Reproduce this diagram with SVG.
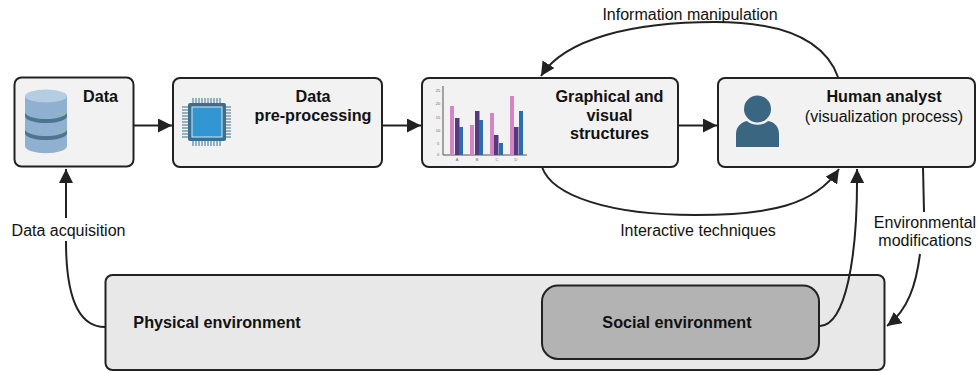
<svg xmlns="http://www.w3.org/2000/svg" width="978" height="371" viewBox="0 0 978 371">
<style>
text{font-family:"Liberation Sans",Arial,sans-serif;fill:#111;font-size:16px;text-anchor:middle}
.b{font-weight:700;font-size:16.2px}
text.t{font-size:4px;fill:#666}
.box{fill:#f2f2f2;stroke:#222;stroke-width:2}
.c{fill:none;stroke:#222;stroke-width:2}
.pin{stroke:#3c6f8e;stroke-width:1;fill:none}
</style>
<defs><marker id="a" markerWidth="15" markerHeight="15" refX="14" refY="7" orient="auto" markerUnits="userSpaceOnUse"><path d="M0,0L14,7L0,14z" fill="#222"/></marker></defs>
<g id="data"><rect class="box" x="14.500" y="77.500" width="119" height="89" rx="7"/>
<path d="M25 96V146C25 155.500 67 155.500 67 146V96z" fill="#8fb0d0"/>
<ellipse cx="46" cy="96" rx="21" ry="6.500" fill="#b5cde3"/>
<path d="M25 113C30 121 62 121 67 113V117C62 125 30 125 25 117z" fill="#4f7490"/>
<path d="M25 130C30 138 62 138 67 130V134C62 142 30 142 25 134z" fill="#4f7490"/>
<path d="M58 114h1M61 114h1M64 114h1M58 131h1M61 131h1M64 131h1M58 148h1M61 148h1M64 148h1" stroke="#9ccb6a" stroke-width="1.500"/>
<text class="b" x="100.500" y="102">Data</text></g>
<g id="preprocessing"><rect class="box" x="173" y="78" width="209" height="89" rx="7"/>
<path class="pin" d="M193 103V98M196 103V98M199 103V98M202 103V98M205 103V98M208 103V98M211 103V98M214 103V98M217 103V98M220 103V98M193 141V146M196 141V146M199 141V146M202 141V146M205 141V146M208 141V146M211 141V146M214 141V146M217 141V146M220 141V146M182 107H188M182 110H188M182 113H188M182 116H188M182 119H188M182 122H188M182 125H188M182 128H188M182 131H188M182 134H188M182 137H188M226 107H231M226 110H231M226 113H231M226 116H231M226 119H231M226 122H231M226 125H231M226 128H231M226 131H231M226 134H231M226 137H231"/>
<rect x="188" y="103" width="38" height="38" rx="2" fill="#3c6f8e"/><rect x="192" y="107" width="30" height="30" fill="#3196d1" stroke="#d6e6ef"/>
<text class="b" x="313" y="102">Data</text><text class="b" x="313" y="121">pre-processing</text></g>
<g id="graphical"><rect class="box" x="422" y="78" width="256" height="89" rx="7"/>
<path d="M443 86V155H527" fill="none" stroke="#555" stroke-width="1"/>
<path fill="#d584c5" d="M450 106h4v49h-4zM470 125h4v30h-4zM490 113h4v42h-4zM510 96h4v59h-4z"/>
<path fill="#563a7e" d="M455 118h4.500v37h-4.500zM475 111h4.500v44h-4.500zM494 135h4.500v20h-4.500zM514 127h4.500v28h-4.500z"/>
<path fill="#2c6db0" d="M459 127h4v28h-4zM479 120h4v35h-4zM499 143h4v12h-4zM519 111h4v44h-4z"/>
<text class="t" x="457" y="161">A</text><text class="t" x="477" y="161">B</text><text class="t" x="497" y="161">C</text><text class="t" x="516" y="161">D</text>
<text class="t" x="438" y="92">25</text><text class="t" x="438" y="105">20</text><text class="t" x="438" y="119">15</text><text class="t" x="438" y="132">10</text><text class="t" x="438" y="145">5</text><text class="t" x="438" y="156">0</text>
<text class="b" x="609.500" y="102">Graphical and</text><text class="b" x="609.500" y="121">visual</text><text class="b" x="609.500" y="139">structures</text></g>
<g id="human"><rect class="box" x="718" y="78" width="257" height="89" rx="7"/>
<circle cx="757.500" cy="109" r="13.500" fill="#3a6682"/><path d="M736 147V134C736 126 742 122 747 121C752 126 763 126 768 121C774 122 779 126 779 134V147z" fill="#3a6682"/>
<text class="b" x="884" y="102">Human analyst</text><text x="884" y="122">(visualization process)</text></g>
<g id="physical"><rect x="105.500" y="275" width="779" height="95" rx="7" fill="#e8e8e8" stroke="#222" stroke-width="2"/><text class="b" x="217" y="328">Physical environment</text></g>
<g id="social"><rect x="542" y="285.500" width="277" height="73.500" rx="16" fill="#b3b3b3" stroke="#222" stroke-width="2"/><text class="b" x="677" y="328">Social environment</text></g>
<g id="connectors">
<path class="c" d="M133.500 125.500H172" marker-end="url(#a)"/>
<path class="c" d="M382 125.500H421" marker-end="url(#a)"/>
<path class="c" d="M678 125.500H717" marker-end="url(#a)"/>
<path class="c" d="M838 77C826 44 790 22 715 22C635 22 565 38 541 76" marker-end="url(#a)"/>
<path class="c" d="M542 167C552 196 610 215 695 215C770 215 815 205 839 169" marker-end="url(#a)"/>
<path class="c" d="M66 218V169" marker-end="url(#a)"/>
<path class="c" d="M105 327C80 327 66 300 66 241"/>
<path class="c" d="M820 326C845 325 858 260 857 169" marker-end="url(#a)"/>
<path class="c" d="M923 167L924 212"/>
<path class="c" d="M920 254C916 285 908 310 887 326" marker-end="url(#a)"/>
</g>
<text x="690" y="20">Information manipulation</text>
<text x="698" y="236">Interactive techniques</text>
<text x="68.500" y="236">Data acquisition</text>
<text x="925" y="228">Environmental</text>
<text x="925" y="246">modifications</text>
</svg>
